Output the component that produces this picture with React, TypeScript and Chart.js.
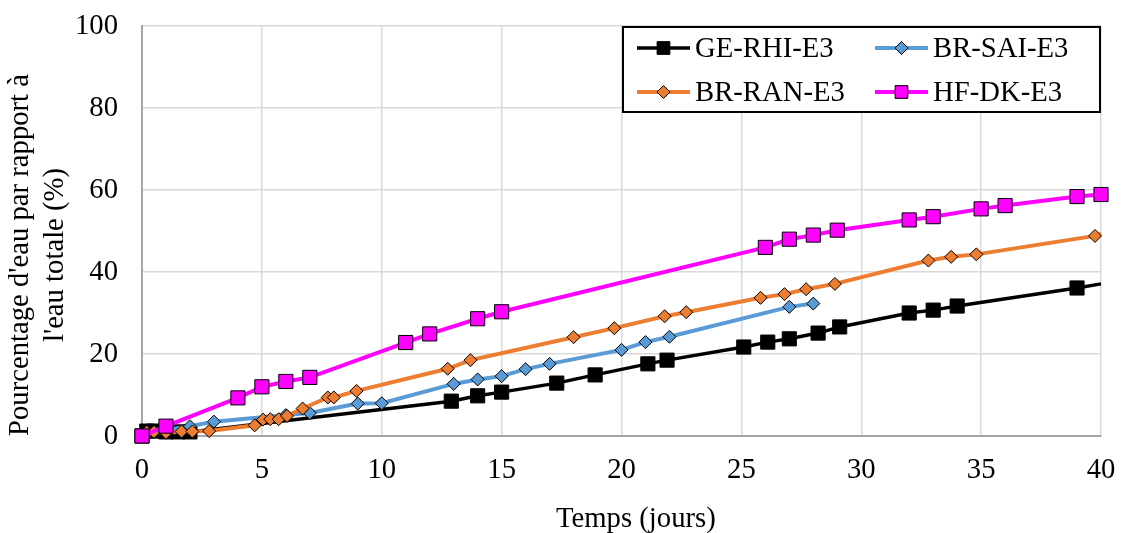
import React, { useEffect, useRef } from 'react';
import { Chart, registerables } from 'chart.js';

Chart.register(...registerables);

const FONT_FAMILY = '"Liberation Serif", "Times New Roman", serif';
const FONT_SIZE = 28.7;

const xTickValues = [0, 5, 10, 15, 20, 25, 30, 35, 40];
const yTickValues = [0, 20, 40, 60, 80, 100];

const seriesNames = ['GE-RHI-E3', 'BR-SAI-E3', 'BR-RAN-E3', 'HF-DK-E3'];
const seriesColors = ['#000000', '#5B9BD5', '#ED7D31', '#FF00FF'];
const seriesMarkers = ['rect', 'rectRot', 'rectRot', 'rect'];

const geX = [0, 0.2, 0.5, 1, 1.5, 2, 12.9, 14, 15, 17.3, 18.9, 21.1, 21.9, 25.1, 26.1, 27, 28.2, 29.1, 32, 33, 34, 39, 40];
const geY = [0, 1.2, 1.2, 1, 1, 1, 8.5, 9.8, 10.7, 12.9, 14.9, 17.6, 18.5, 21.7, 22.9, 23.7, 25.1, 26.6, 30, 30.7, 31.7, 36.1, 37.1];
const geMarker = [1, 1, 1, 1, 1, 1, 1, 1, 1, 1, 1, 1, 1, 1, 1, 1, 1, 1, 1, 1, 1, 1, 0];

const saiX = [0, 1, 2, 3, 6, 7, 9, 10, 13, 14, 15, 16, 17, 20, 21, 22, 27, 28];
const saiY = [0, 1.5, 2.4, 3.5, 5.1, 5.6, 7.9, 8, 12.7, 13.8, 14.6, 16.3, 17.6, 21, 22.9, 24.2, 31.5, 32.3];
const saiMarker = saiX.map(() => 1);

const ranX = [0, 0.2, 0.5, 1, 1.65, 2.1, 2.8, 4.7, 5.05, 5.35, 5.7, 6.05, 6.7, 7.75, 8, 8.95, 12.75, 13.7, 18, 19.7, 21.8, 22.7, 25.8, 26.8, 27.7, 28.9, 32.8, 33.75, 34.8, 39.75, 40];
const ranY = [0, 1, 1, 0.8, 1.1, 1.1, 1.2, 2.6, 4.0, 4.1, 4.1, 4.9, 6.7, 9.4, 9.4, 11, 16.4, 18.5, 24.1, 26.3, 29.2, 30.2, 33.7, 34.6, 35.8, 37.1, 42.8, 43.7, 44.3, 48.8, 49.3];
const ranMarker = ranX.map((_, i) => (i === ranX.length - 1 ? 0 : 1));

const hfX = [0, 1, 4, 5, 6, 7, 11, 12, 14, 15, 26, 27, 28, 29, 32, 33, 35, 36, 39, 40];
const hfY = [0, 2.4, 9.3, 12, 13.3, 14.3, 22.8, 24.9, 28.6, 30.3, 46, 48, 49, 50.2, 52.7, 53.5, 55.4, 56.2, 58.4, 58.9];
const hfMarker = hfX.map(() => 1);

const xTitle = 'Temps (jours)';
const yTitle = ["Pourcentage d'eau par rapport à", "l'eau totale (%)"];

const allX = [geX, saiX, ranX, hfX];
const allY = [geY, saiY, ranY, hfY];
const allMarkers = [geMarker, saiMarker, ranMarker, hfMarker];
const markerRadius = [10, 6.5, 6.5, 10];
const lineWidths = [3.5, 4, 4, 4];

function drawMarker(ctx: CanvasRenderingContext2D, style: string, x: number, y: number, r: number, fill: string) {
  ctx.beginPath();
  if (style === 'rect') {
    const s = r * Math.SQRT1_2;
    ctx.rect(x - s, y - s, 2 * s, 2 * s);
  } else {
    ctx.moveTo(x - r, y);
    ctx.lineTo(x, y - r);
    ctx.lineTo(x + r, y);
    ctx.lineTo(x, y + r);
    ctx.closePath();
  }
  ctx.fillStyle = fill;
  ctx.fill();
  ctx.lineWidth = 1;
  ctx.strokeStyle = '#000';
  ctx.stroke();
}

const decorPlugin = {
  id: 'decor',
  afterDraw(chart: any) {
    const ctx: CanvasRenderingContext2D = chart.ctx;
    const area = chart.chartArea;
    ctx.save();
    ctx.fillStyle = '#000';
    ctx.font = `${FONT_SIZE}px ${FONT_FAMILY}`;
    ctx.textAlign = 'center';
    ctx.textBaseline = 'middle';
    ctx.fillText(xTitle, area.left + (area.right - area.left) * 0.515, area.bottom + 83);
    ctx.save();
    ctx.translate(20, area.top + 229);
    ctx.rotate(-Math.PI / 2);
    ctx.fillText(yTitle[0], 0, 0);
    ctx.restore();
    ctx.save();
    ctx.translate(55, area.top + 229);
    ctx.rotate(-Math.PI / 2);
    ctx.fillText(yTitle[1], 0, 0);
    ctx.restore();

    const bx = area.right - 478;
    const by = area.top + 1;
    const bw = 477;
    const bh = 85;
    ctx.fillStyle = '#fff';
    ctx.fillRect(bx, by, bw, bh);
    ctx.lineWidth = 2;
    ctx.strokeStyle = '#000';
    ctx.strokeRect(bx, by, bw, bh);
    const colOffsets = [14, 252];
    const rowOffsets = [21, 65];
    for (let i = 0; i < seriesNames.length; i++) {
      const cx = bx + colOffsets[i % 2];
      const cy = by + rowOffsets[Math.floor(i / 2)];
      ctx.beginPath();
      ctx.moveTo(cx, cy);
      ctx.lineTo(cx + 53, cy);
      ctx.lineWidth = lineWidths[i];
      ctx.strokeStyle = seriesColors[i];
      ctx.stroke();
      drawMarker(ctx, seriesMarkers[i], cx + 26.5, cy, seriesMarkers[i] === 'rect' ? 9 : 6.5, seriesColors[i]);
      ctx.fillStyle = '#000';
      ctx.font = `${FONT_SIZE}px ${FONT_FAMILY}`;
      ctx.textAlign = 'left';
      ctx.textBaseline = 'middle';
      ctx.fillText(seriesNames[i], cx + 58, cy + 1);
    }
    ctx.restore();
  },
};

export default function App() {
  const canvasRef = useRef<HTMLCanvasElement | null>(null);

  useEffect(() => {
    document.body.style.margin = '0';
    const canvas = canvasRef.current;
    if (!canvas) return;

    const datasets = seriesNames.map((name, i) => ({
      label: name,
      data: allX[i].map((x, j) => ({ x, y: allY[i][j] })),
      borderColor: seriesColors[i],
      backgroundColor: seriesColors[i],
      borderWidth: lineWidths[i],
      pointStyle: seriesMarkers[i],
      pointRadius: allMarkers[i].map((m) => (m ? markerRadius[i] : 0)),
      pointBorderColor: '#000',
      pointBackgroundColor: seriesColors[i],
      pointBorderWidth: 1,
      showLine: true,
      tension: 0,
      clip: false as any,
      order: seriesNames.length - 1 - i,
    }));

    const chart = new Chart(canvas, {
      type: 'scatter',
      data: { datasets: datasets as any },
      options: {
        animation: false,
        responsive: true,
        maintainAspectRatio: false,
        layout: { padding: { left: 0, right: 20, top: 26, bottom: 0 } },
        plugins: {
          legend: { display: false },
          tooltip: { enabled: false },
          title: { display: false },
        },
        scales: {
          x: {
            type: 'linear',
            min: 0,
            max: 40,
            afterBuildTicks: (scale: any) => {
              scale.ticks = xTickValues.map((v) => ({ value: v }));
            },
            afterFit: (scale: any) => {
              scale.height = 97;
              scale.paddingLeft = 0;
              scale.paddingRight = 0;
            },
            ticks: {
              color: '#000',
              font: { family: FONT_FAMILY, size: FONT_SIZE },
              padding: 17,
              maxRotation: 0,
            },
            grid: { color: '#D9D9D9', lineWidth: 1.5, drawTicks: false },
            border: { color: '#A6A6A6', width: 2 },
          },
          y: {
            type: 'linear',
            min: 0,
            max: 100,
            afterBuildTicks: (scale: any) => {
              scale.ticks = yTickValues.map((v) => ({ value: v }));
            },
            afterFit: (scale: any) => {
              scale.width = 142;
              scale.paddingTop = 0;
              scale.paddingBottom = 0;
            },
            ticks: {
              color: '#000',
              font: { family: FONT_FAMILY, size: FONT_SIZE },
              padding: 24,
            },
            grid: { color: '#D9D9D9', lineWidth: 1.5, drawTicks: false },
            border: { color: '#A6A6A6', width: 2 },
          },
        },
      },
      plugins: [decorPlugin],
    });

    return () => {
      chart.destroy();
    };
  }, []);

  return (
    <div style={{ width: 1121, height: 533, position: 'relative', background: '#fff' }}>
      <canvas ref={canvasRef} />
    </div>
  );
}
